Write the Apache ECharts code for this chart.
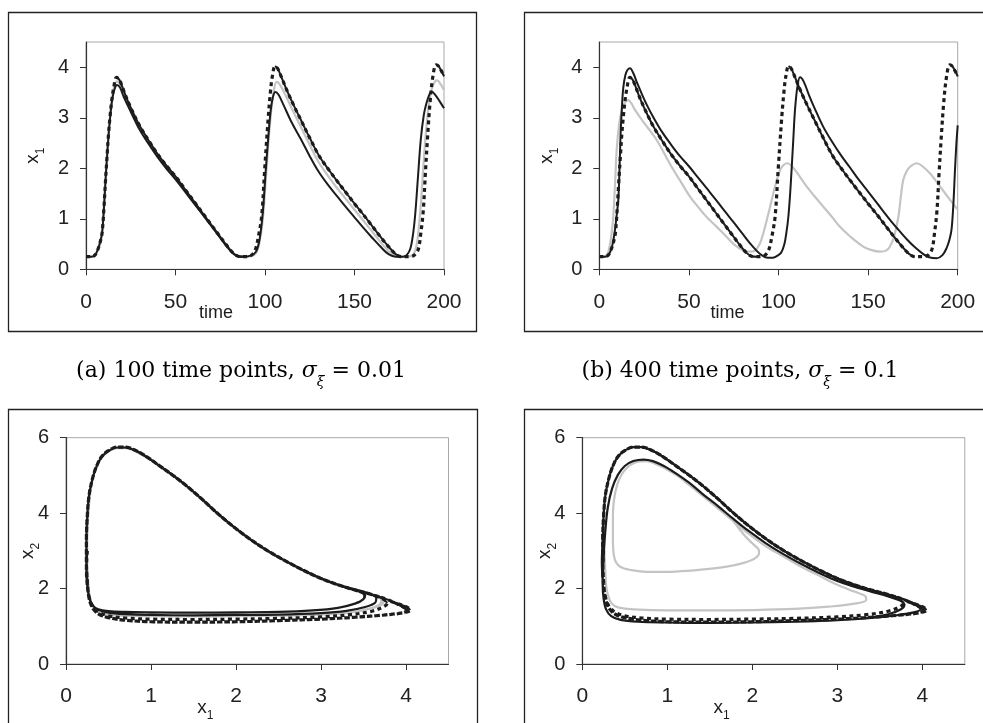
<!DOCTYPE html>
<html>
<head>
<meta charset="utf-8">
<script src="https://cdn.jsdelivr.net/npm/echarts@6/dist/echarts.min.js"></script>
<style>
  html, body { margin: 0; padding: 0; background: #fff; }
  #chart { width: 983px; height: 723px; }
</style>
</head>
<body>
<div id="chart"></div>
<script>
// ---- tick labels ----
const timeTicks = [0, 50, 100, 150, 200];
const x1Ticks = [0, 1, 2, 3, 4];
const x2Ticks = [0, 2, 4, 6];

// ---- captions ----
const captionA = ['(a) 100 time points, ', 'σ', 'ξ', ' = 0.01'];
const captionB = ['(b) 400 time points, ', 'σ', 'ξ', ' = 0.1'];

// ---- x1 over time: true trajectory (shared by both time panels) ----
const x1True = [
  [0,0.25],[3,0.25],[5,0.28],[6.7,0.4],[8,0.55],[9,0.72],[10,1.2],[10.8,1.7],[11.7,2.2],[12.6,2.69],
  [13.5,3.05],[14.4,3.35],[15.5,3.6],[17,3.8],[18.5,3.76],[20,3.64],[22,3.45],[25,3.2],[30,2.84],[35,2.55],
  [40,2.28],[45,2.05],[50,1.84],[55,1.6],[60,1.36],[65,1.12],[70,0.88],[74,0.69],[78,0.5],[82,0.33],
  [85,0.26],[88,0.25],[92,0.27],[94.5,0.38],[96.3,0.65],[98.1,1.04],[99.9,2.02],[101.8,3.0],[103,3.5],[104.1,3.82],
  [105.6,4.02],[107,3.98],[109,3.82],[112,3.56],[116,3.25],[120,2.96],[125,2.6],[130,2.26],[135,2.0],[140,1.76],
  [145,1.53],[150,1.3],[155,1.08],[160,0.85],[165,0.62],[169,0.45],[173,0.3],[176,0.25],[180,0.25],[183,0.27],
  [185.5,0.38],[187,0.7],[188.4,1.15],[189.6,1.9],[190.8,2.6],[192.2,3.3],[193.8,3.82],[195.6,4.05],[197,4.02],[198.5,3.93],
  [200,3.82]
];

// ---- x1 over time, 100 time points, sigma 0.01 ----
const x1BlackA = [
  [0,0.25],[3,0.25],[5,0.28],[6.7,0.4],[8,0.55],[9,0.72],[10,1.2],[10.8,1.7],[11.7,2.2],[12.6,2.65],
  [13.6,3.05],[14.6,3.35],[15.8,3.55],[17.3,3.65],[19,3.6],[21,3.42],[25,3.12],[30,2.76],[35,2.48],[40,2.22],
  [45,1.99],[50,1.78],[55,1.55],[60,1.32],[65,1.09],[70,0.86],[74,0.67],[78,0.48],[82,0.32],[85,0.26],
  [88,0.25],[92,0.27],[95,0.35],[97,0.6],[98.7,1.1],[100.3,1.9],[101.8,2.6],[103.2,3.15],[104.5,3.42],[105.8,3.51],
  [107.5,3.46],[110,3.28],[115,2.9],[120,2.58],[125,2.24],[130,1.93],[135,1.68],[140,1.46],[145,1.24],[150,1.03],
  [155,0.82],[160,0.62],[165,0.43],[169,0.3],[173,0.25],[177,0.25],[180.5,0.35],[182.3,0.6],[183.8,1.04],[185.4,1.8],
  [187,2.56],[188.7,3.05],[190.3,3.3],[191.8,3.46],[193,3.52],[195,3.46],[197.5,3.33],[200,3.19]
];
const x1GrayA = [
  [0,0.25],[3,0.25],[5,0.28],[6.7,0.4],[8,0.55],[9,0.72],[10,1.2],[10.8,1.7],[11.7,2.2],[12.6,2.67],
  [13.6,3.08],[14.6,3.4],[15.8,3.62],[17.3,3.72],[19,3.67],[21,3.5],[25,3.17],[30,2.8],[35,2.52],[40,2.25],
  [45,2.02],[50,1.81],[55,1.58],[60,1.34],[65,1.1],[70,0.87],[74,0.68],[78,0.49],[82,0.32],[85,0.26],
  [88,0.25],[92,0.26],[95,0.32],[97,0.55],[98.8,1.0],[100.5,1.8],[102,2.55],[103.5,3.15],[105,3.55],[106.5,3.71],
  [108,3.67],[111,3.48],[115,3.18],[120,2.82],[125,2.46],[130,2.12],[135,1.86],[140,1.62],[145,1.4],[150,1.18],
  [155,0.96],[160,0.74],[165,0.52],[169,0.36],[173,0.27],[176,0.25],[180,0.25],[183,0.3],[184.8,0.5],[186,0.85],
  [187.3,1.4],[188.6,2.1],[190,2.75],[191.5,3.25],[193.2,3.58],[195,3.72],[196.3,3.74],[198,3.67],[200,3.55]
];

// ---- x1 over time, 400 time points, sigma 0.1 ----
const x1BlackB = [
  [0,0.25],[3,0.25],[5,0.28],[6.7,0.4],[8,0.6],[9,0.85],[9.8,1.1],[10.6,1.37],[11.3,2.0],[11.9,2.69],
  [12.6,3.2],[13.4,3.6],[14.6,3.85],[15.8,3.95],[17.1,3.98],[19,3.88],[21,3.7],[24,3.45],[27,3.22],[30,3.02],
  [35,2.72],[40,2.47],[45,2.24],[50,2.04],[55,1.82],[60,1.6],[65,1.38],[70,1.15],[75,0.93],[80,0.7],
  [84,0.52],[88,0.36],[91,0.27],[94,0.23],[97,0.23],[99,0.26],[101.5,0.33],[103.3,0.5],[104.5,0.75],[105.5,1.04],
  [106.5,1.5],[107.4,2.03],[108.3,2.6],[109.2,3.15],[110.5,3.6],[112,3.8],[114,3.72],[117,3.45],[120,3.2],[125,2.82],
  [130,2.52],[135,2.25],[140,2.01],[143.6,1.83],[150,1.54],[155,1.31],[162,0.99],[167,0.78],[172,0.58],[176,0.44],
  [180.8,0.3],[184,0.24],[188.3,0.22],[191.5,0.28],[193.8,0.42],[195.5,0.6],[196.6,0.8],[197.6,1.3],[198.4,1.9],[199.2,2.45],
  [200,2.85]
];
const x1GrayB = [
  [0,0.25],[2.5,0.25],[4.5,0.3],[6,0.5],[7,0.75],[7.8,1.04],[8.8,1.7],[9.7,2.36],[11,2.85],[12.5,3.15],
  [14.3,3.3],[16.2,3.35],[18,3.28],[20,3.15],[25,2.9],[32,2.56],[40,2.05],[45,1.76],[50.6,1.44],[55,1.24],
  [60,1.03],[65,0.86],[69.2,0.71],[75,0.5],[80.4,0.37],[84,0.35],[87,0.37],[89.5,0.5],[91.5,0.71],[94,1.05],
  [96.2,1.37],[98.5,1.7],[100.8,1.96],[103,2.07],[105.1,2.1],[107.5,2.04],[111,1.88],[115.7,1.64],[120,1.45],[125,1.24],
  [130,1.03],[134.3,0.84],[140,0.65],[147.3,0.45],[152,0.38],[156.6,0.35],[160,0.37],[162.2,0.45],[164.5,0.65],[166.9,1.04],
  [168.3,1.45],[169.6,1.77],[171.5,1.94],[173.4,2.03],[177.1,2.1],[180,2.05],[185,1.88],[190.1,1.64],[195,1.41],[200,1.18]
];

// ---- phase portraits [x1, x2]: true trajectory (shared) ----
const phaseTrue = [
  [0.25,3.0],[0.24,2.5],[0.25,2.1],[0.27,1.8],[0.31,1.55],[0.38,1.38],[0.5,1.28],[0.7,1.22],[1.0,1.19],[1.5,1.18],
  [2.0,1.19],[2.5,1.21],[3.0,1.25],[3.35,1.31],[3.6,1.4],[3.74,1.52],[3.78,1.62],[3.72,1.74],[3.6,1.84],[3.4,1.96],
  [3.2,2.1],[3.0,2.27],[2.78,2.5],[2.56,2.76],[2.36,3.02],[2.16,3.32],[1.96,3.66],[1.77,4.02],[1.6,4.37],[1.42,4.72],
  [1.26,5.0],[1.11,5.24],[0.96,5.48],[0.83,5.65],[0.7,5.75],[0.6,5.75],[0.5,5.66],[0.42,5.5],[0.36,5.25],[0.31,4.9],
  [0.27,4.45],[0.25,3.9],[0.24,3.3],[0.24,2.7],[0.25,2.2],[0.27,1.76],[0.31,1.5],[0.38,1.33],[0.5,1.23],[0.7,1.16],
  [1.0,1.12],[1.5,1.11],[2.0,1.12],[2.5,1.15],[3.0,1.19],[3.4,1.24],[3.7,1.29],[3.89,1.33],[3.98,1.37],[4.02,1.42],
  [3.93,1.55],[3.77,1.72],[3.6,1.84],[3.4,1.96],[3.2,2.1],[3.0,2.27],[2.78,2.5],[2.56,2.76],[2.36,3.02],[2.16,3.32],
  [1.96,3.66],[1.77,4.02],[1.6,4.37],[1.42,4.72],[1.26,5.0],[1.11,5.24],[0.96,5.48],[0.83,5.65],[0.7,5.75],[0.6,5.75],
  [0.5,5.66],[0.42,5.5],[0.36,5.25],[0.31,4.9],[0.27,4.45],[0.25,3.9],[0.24,3.3],[0.24,2.7],[0.25,2.2],[0.27,1.76],
  [0.31,1.5],[0.38,1.33],[0.5,1.23],[0.7,1.16],[1.0,1.12],[1.5,1.11],[2.0,1.12],[2.5,1.15],[3.0,1.19],[3.4,1.24],
  [3.7,1.29],[3.9,1.34],[4.01,1.38],[4.05,1.43],[4.0,1.52],[3.9,1.6],[3.82,1.66]
];

// ---- phase portrait, 100 time points, sigma 0.01 ----
const phaseBlackA = [
  [0.25,3.0],[0.24,2.5],[0.25,2.1],[0.27,1.8],[0.31,1.57],[0.38,1.44],[0.5,1.36],[0.7,1.32],[1.0,1.3],[1.5,1.29],
  [2.0,1.3],[2.5,1.31],[3.0,1.35],[3.3,1.41],[3.52,1.51],[3.64,1.63],[3.65,1.74],[3.55,1.88],[3.4,1.98],[3.2,2.1],
  [3.0,2.27],[2.78,2.5],[2.56,2.76],[2.36,3.02],[2.16,3.32],[1.96,3.66],[1.77,4.02],[1.6,4.37],[1.42,4.72],[1.26,5.0],
  [1.11,5.24],[0.96,5.47],[0.83,5.64],[0.7,5.74],[0.6,5.74],[0.5,5.65],[0.42,5.49],[0.36,5.24],[0.31,4.9],[0.27,4.45],
  [0.25,3.9],[0.24,3.3],[0.24,2.7],[0.25,2.2],[0.27,1.78],[0.31,1.56],[0.38,1.45],[0.5,1.4],[0.7,1.38],[1.0,1.37],
  [1.5,1.36],[2.0,1.37],[2.5,1.38],[2.9,1.42],[3.2,1.49],[3.4,1.6],[3.5,1.72],[3.51,1.82],[3.45,1.92],[3.3,2.02],
  [3.2,2.1],[3.0,2.27],[2.78,2.5],[2.56,2.76],[2.36,3.02],[2.16,3.32],[1.96,3.66],[1.77,4.02],[1.6,4.37],[1.42,4.72],
  [1.26,5.0],[1.11,5.24],[0.96,5.47],[0.83,5.64],[0.7,5.74],[0.6,5.74],[0.5,5.65],[0.42,5.49],[0.36,5.24],[0.31,4.9],
  [0.27,4.45],[0.25,3.9],[0.24,3.3],[0.24,2.7],[0.25,2.2],[0.27,1.78],[0.31,1.56],[0.38,1.45],[0.5,1.4],[0.7,1.38],
  [1.0,1.37],[1.5,1.36],[2.0,1.37],[2.5,1.38],[2.9,1.42],[3.2,1.49],[3.4,1.6],[3.5,1.72],[3.52,1.82],[3.45,1.92],
  [3.3,2.02],[3.19,2.1]
];
const phaseGrayA = [
  [0.25,3.0],[0.24,2.5],[0.25,2.1],[0.27,1.8],[0.31,1.52],[0.38,1.38],[0.5,1.31],[0.7,1.28],[1.0,1.27],[1.5,1.26],
  [2.0,1.27],[2.5,1.28],[3.0,1.31],[3.35,1.37],[3.58,1.47],[3.7,1.58],[3.72,1.7],[3.64,1.8],[3.5,1.9],[3.3,2.02],
  [3.0,2.25],[2.78,2.48],[2.56,2.74],[2.36,3.0],[2.16,3.3],[1.96,3.64],[1.77,4.0],[1.6,4.35],[1.42,4.7],[1.26,4.98],
  [1.11,5.22],[0.96,5.45],[0.83,5.62],[0.7,5.72],[0.6,5.72],[0.5,5.63],[0.42,5.47],[0.36,5.22],[0.31,4.88],[0.28,4.43],
  [0.26,3.9],[0.25,3.3],[0.25,2.7],[0.26,2.2],[0.28,1.78],[0.31,1.52],[0.38,1.38],[0.5,1.31],[0.7,1.28],[1.0,1.27],
  [1.5,1.26],[2.0,1.27],[2.5,1.28],[3.0,1.31],[3.35,1.37],[3.57,1.47],[3.69,1.58],[3.71,1.7],[3.63,1.8],[3.5,1.9],
  [3.3,2.02],[3.0,2.25],[2.78,2.48],[2.56,2.74],[2.36,3.0],[2.16,3.3],[1.96,3.64],[1.77,4.0],[1.6,4.35],[1.42,4.7],
  [1.26,4.98],[1.11,5.22],[0.96,5.45],[0.83,5.62],[0.7,5.72],[0.6,5.72],[0.5,5.63],[0.42,5.47],[0.36,5.22],[0.31,4.88],
  [0.28,4.43],[0.26,3.9],[0.25,3.3],[0.25,2.7],[0.26,2.2],[0.28,1.78],[0.31,1.52],[0.38,1.38],[0.5,1.31],[0.7,1.28],
  [1.0,1.27],[1.5,1.26],[2.0,1.27],[2.5,1.28],[3.0,1.31],[3.35,1.37],[3.59,1.47],[3.72,1.58],[3.74,1.7],[3.66,1.8],
  [3.55,1.88]
];

// ---- phase portrait, 400 time points, sigma 0.1 ----
const phaseBlackB = [
  [0.25,3.0],[0.24,2.5],[0.24,2.1],[0.25,1.75],[0.28,1.45],[0.34,1.27],[0.45,1.17],[0.65,1.12],[1.0,1.1],[1.5,1.09],
  [2.0,1.1],[2.5,1.12],[3.0,1.16],[3.4,1.22],[3.72,1.3],[3.9,1.37],[3.98,1.45],[3.95,1.55],[3.8,1.7],[3.6,1.84],
  [3.4,1.96],[3.2,2.1],[3.0,2.27],[2.78,2.5],[2.56,2.76],[2.36,3.02],[2.16,3.32],[1.96,3.66],[1.77,4.02],[1.6,4.37],
  [1.42,4.72],[1.26,5.0],[1.11,5.24],[0.96,5.48],[0.83,5.65],[0.7,5.75],[0.6,5.75],[0.5,5.66],[0.42,5.5],[0.36,5.25],
  [0.31,4.9],[0.27,4.45],[0.25,3.9],[0.24,3.3],[0.23,2.7],[0.24,2.2],[0.25,1.75],[0.28,1.45],[0.34,1.27],[0.45,1.17],
  [0.65,1.12],[1.0,1.1],[1.5,1.09],[2.0,1.1],[2.5,1.12],[3.0,1.16],[3.35,1.22],[3.6,1.32],[3.75,1.45],[3.79,1.57],
  [3.74,1.68],[3.6,1.79],[3.4,1.92],[3.2,2.05],[3.0,2.2],[2.78,2.42],[2.56,2.67],[2.36,2.92],[2.16,3.2],[1.96,3.52],
  [1.77,3.86],[1.6,4.18],[1.42,4.5],[1.26,4.8],[1.11,5.04],[0.96,5.25],[0.83,5.38],[0.72,5.42],[0.6,5.38],[0.5,5.25],
  [0.42,5.02],[0.35,4.65],[0.3,4.15],[0.27,3.5],[0.25,2.8],[0.24,2.2],[0.25,1.75],[0.28,1.45],[0.34,1.27],[0.45,1.17],
  [0.65,1.12],[1.0,1.1],[1.5,1.09],[2.0,1.1],[2.5,1.12],[2.85,1.15]
];
const phaseGrayB = [
  [0.26,3.0],[0.27,2.5],[0.28,2.1],[0.3,1.85],[0.34,1.62],[0.42,1.5],[0.6,1.45],[1.0,1.42],[1.5,1.42],[2.0,1.43],
  [2.5,1.46],[2.9,1.52],[3.2,1.6],[3.34,1.7],[3.33,1.8],[3.2,1.92],[3.0,2.1],[2.78,2.35],[2.56,2.6],[2.36,2.86],
  [2.16,3.12],[1.96,3.45],[1.77,3.8],[1.6,4.12],[1.42,4.45],[1.26,4.75],[1.11,5.0],[0.96,5.2],[0.85,5.32],[0.75,5.38],
  [0.64,5.36],[0.55,5.25],[0.47,5.05],[0.41,4.75],[0.37,4.3],[0.36,3.8],[0.36,3.3],[0.37,2.9],[0.4,2.68],[0.47,2.55],
  [0.6,2.48],[0.8,2.44],[1.1,2.45],[1.4,2.5],[1.7,2.58],[1.9,2.68],[2.03,2.8],[2.08,2.95],[2.07,3.05],[2.0,3.2],
  [1.92,3.38],[1.84,3.6],[1.77,3.8],[1.6,4.12],[1.42,4.45],[1.26,4.75],[1.11,5.0],[0.96,5.2],[0.85,5.32],[0.75,5.38],
  [0.64,5.36],[0.55,5.25],[0.47,5.05],[0.41,4.75],[0.37,4.3],[0.36,3.8],[0.36,3.3],[0.37,2.9],[0.4,2.68],[0.47,2.55],
  [0.6,2.48],[0.8,2.44],[1.1,2.45],[1.4,2.5],[1.7,2.58],[1.9,2.68],[2.03,2.8],[2.08,2.95],[2.07,3.05],[2.0,3.2],
  [1.92,3.38],[1.84,3.6],[1.77,3.8],[1.6,4.12],[1.42,4.45],[1.2,4.85]
];

// ---- styling helpers ----
const INK = '#1c1c1c';
const GRAY = '#c4c4c4';
const SANS = 'Liberation Sans, Arial, Helvetica, sans-serif';
const SERIF = 'DejaVu Serif, Liberation Serif, serif';

// Keeps only the points that touch a "slow" segment; others become gaps.
function slowOnly(points, isSlow) {
  return points.map((p, i) => {
    const prev = i > 0 && isSlow(points[i - 1], p);
    const next = i < points.length - 1 && isSlow(p, points[i + 1]);
    return (prev || next) ? p : [p[0], null];
  });
}
const decaying = (a, b) => b[1] < a[1];
const climbingBack = (a, b) => b[0] < a[0] && b[1] > a[1];

const subRich = {
  v: { fontFamily: SANS, fontSize: 19, color: INK, lineHeight: 22 },
  s: { fontFamily: SANS, fontSize: 12, color: INK, lineHeight: 12, verticalAlign: 'bottom', padding: [0, 0, -3, 0] }
};

function axis(gridIndex, min, max, ticks, labelSize, margin, name, nameGap, namePad, rotate, nameSize) {
  return {
    type: 'value', gridIndex, min, max,
    axisLine: { show: true, onZero: false, lineStyle: { color: '#333', width: 1.2 } },
    axisTick: { show: true, customValues: ticks, length: 6, lineStyle: { color: '#333', width: 1 } },
    axisLabel: { customValues: ticks, fontFamily: SANS, fontSize: labelSize, color: '#222', margin },
    splitLine: { show: false },
    name, nameLocation: 'middle', nameGap, nameRotate: rotate, nameMoveOverlap: false,
    nameTextStyle: { fontFamily: SANS, fontSize: nameSize || 17, color: INK, padding: namePad, rich: subRich }
  };
}

function line(data, xi, color, width, dash) {
  return {
    type: 'line', xAxisIndex: xi, yAxisIndex: xi, data,
    showSymbol: false, symbol: 'none', smooth: 0.35, connectNulls: false,
    lineStyle: { color, width, type: dash || 'solid', cap: 'butt', join: 'round' },
    emphasis: { disabled: true }, silent: true
  };
}

const grids = [
  { left: 86, top: 42, width: 358, height: 227.3 },
  { left: 599.3, top: 42, width: 358.4, height: 227.3 },
  { left: 66, top: 437.7, width: 382.5, height: 229.6 },
  { left: 582.3, top: 437.7, width: 382.5, height: 229.6 }
].map(g => Object.assign(g, { show: true, borderColor: '#a8a8a8', borderWidth: 1, backgroundColor: 'transparent' }));

const xAxes = [
  axis(0, 0, 200, timeTicks, 21, 22, 'time', 35, [0, 98, 0, 0], 0, 18),
  axis(1, 0, 200, timeTicks, 21, 22, 'time', 35, [0, 102, 0, 0], 0, 18),
  axis(2, 0, 4.5, x1Ticks, 21, 22, '{v|x}{s|1}', 33, [0, 104, 0, 0], 0),
  axis(3, 0, 4.5, x1Ticks, 21, 22, '{v|x}{s|1}', 33, [0, 104, 0, 0], 0)
];
const yAxes = [
  axis(0, 0, 4.5, x1Ticks, 20, 17, '{v|x}{s|1}', 42, 0, 90),
  axis(1, 0, 4.5, x1Ticks, 20, 17, '{v|x}{s|1}', 42, 0, 90),
  axis(2, 0, 6, x2Ticks, 20, 17, '{v|x}{s|2}', 27, 0, 90),
  axis(3, 0, 6, x2Ticks, 20, 17, '{v|x}{s|2}', 27, 0, 90)
];

const series = [
  line(x1GrayA, 0, GRAY, 2.2), line(x1BlackA, 0, INK, 2),
  line(x1True, 0, INK, 3.2, [4, 3.5]), line(slowOnly(x1True, decaying), 0, INK, 2),

  line(x1GrayB, 1, GRAY, 2.2), line(x1BlackB, 1, INK, 2),
  line(x1True, 1, INK, 3.2, [4, 3.5]), line(slowOnly(x1True, decaying), 1, INK, 2),

  line(phaseGrayA, 2, GRAY, 2.2), line(phaseBlackA, 2, INK, 2.2),
  line(phaseTrue, 2, INK, 3.2, [4, 3.5]), line(slowOnly(phaseTrue, climbingBack), 2, INK, 2),

  line(phaseGrayB, 3, GRAY, 2.2), line(phaseBlackB, 3, INK, 2.2),
  line(phaseTrue, 3, INK, 3.2, [4, 3.5]), line(slowOnly(phaseTrue, climbingBack), 3, INK, 2)
];

const capRich = {
  t: { fontFamily: SERIF, fontSize: 22, color: '#111', lineHeight: 27 },
  g: { fontFamily: SERIF, fontSize: 22, color: '#111', fontStyle: 'italic', lineHeight: 27 },
  s: { fontFamily: SERIF, fontSize: 14, color: '#111', fontStyle: 'italic', lineHeight: 14, verticalAlign: 'bottom', padding: [0, 0, -5, 0] }
};
function caption(parts, cx, cy) {
  return {
    type: 'text', x: cx, y: cy, silent: true,
    style: {
      text: '{t|' + parts[0] + '}{g|' + parts[1] + '}{s|' + parts[2] + '}{t|' + parts[3] + '}',
      rich: capRich, align: 'center', verticalAlign: 'middle'
    }
  };
}
function frame(x, y, w, h) {
  return { type: 'rect', silent: true, shape: { x, y, width: w, height: h },
    style: { fill: 'none', stroke: '#222', lineWidth: 1.3 } };
}

const chart = echarts.init(document.getElementById('chart'), null, { renderer: 'canvas' });
chart.setOption({
  animation: false,
  backgroundColor: '#fff',
  grid: grids,
  xAxis: xAxes,
  yAxis: yAxes,
  series,
  graphic: [
    frame(8.5, 12.5, 468, 319),
    frame(524.5, 12.5, 480, 319),
    frame(8.5, 409.5, 469, 330),
    frame(524.5, 409.5, 480, 330),
    caption(captionA, 241, 371),
    caption(captionB, 740, 371)
  ]
});
</script>
</body>
</html>
